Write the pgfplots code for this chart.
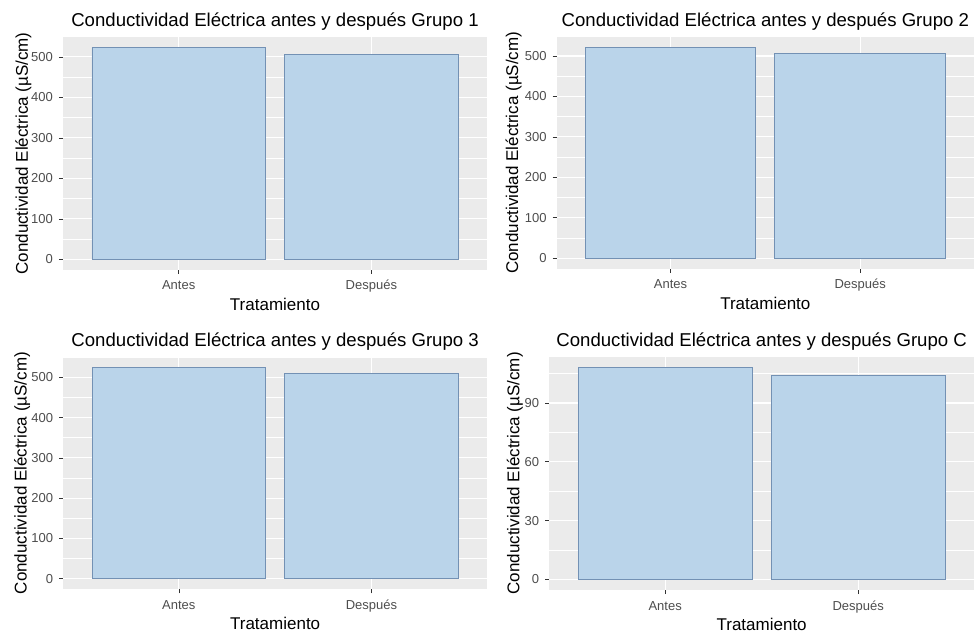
\documentclass[border=0pt]{standalone}
\usepackage{fontspec}
\setmainfont{Liberation Sans}
\usepackage{pgfplots}
\pgfplotsset{compat=1.18}
\definecolor{bggray}{HTML}{EBEBEB}
\definecolor{barfill}{RGB}{186,212,234}
\definecolor{barline}{RGB}{115,145,180}
\definecolor{tickgray}{HTML}{4D4D4D}
\definecolor{tickmark}{HTML}{333333}
\pgfplotsset{
  ggpanel/.style={
    scale only axis,
    axis background/.style={fill=bggray},
    axis line style={draw=none},
    xmin=0.4, xmax=2.6,
    xtick={1,2}, xticklabels={Antes,Después},
    xmajorgrids, ymajorgrids, yminorgrids,
    major grid style={white, line width=1.1pt},
    minor grid style={white, line width=0.55pt},
    tick align=outside, tick pos=left,
    major tick length=4pt, minor tick length=0pt,
    tick style={color=tickmark, line width=0.6pt},
    ticklabel style={font=\fontsize{13}{13}\selectfont, text=tickgray},
    /pgf/number format/assume math mode=true,
    xticklabel style={anchor=base, yshift=-16pt},
    yticklabel style={anchor=east, inner sep=0pt, xshift=-6pt},
    every axis title/.style={at={(rel axis cs:0.5,1)}, anchor=base, yshift=10.5pt, font=\fontsize{18.6}{18.6}\selectfont},
    xlabel={Tratamiento},
    ylabel={Conductividad Eléctrica (µS/cm)},
    every axis x label/.style={at={(rel axis cs:0.5,0)}, anchor=base, yshift=-40.5pt, font=\fontsize{17}{17}\selectfont},
    ybar, bar width=0.9,
  },
  ylab/.style={every axis y label/.style={at={(rel axis cs:0,0.5)}, xshift=-#1, rotate=90, anchor=base, font=\fontsize{17}{17}\selectfont}},
  ggbar/.style={fill=barfill, draw=barline, line width=0.8pt},
}
\begin{document}
\begin{tikzpicture}
\useasboundingbox (0pt,0pt) rectangle (977pt,635pt);
% Panel 1
\begin{axis}[ggpanel, ylab=35pt, at={(63pt,365pt)}, anchor=south west,
  width=424pt, height=233pt,
  ymin=-26.15, ymax=549.15,
  ytick={0,100,200,300,400,500}, minor ytick={50,150,250,350,450,550},
  title={Conductividad Eléctrica antes y después Grupo 1}]
\addplot[ggbar] coordinates {(1,523) (2,507)};
\end{axis}
% Panel 2
\begin{axis}[ggpanel, ylab=38.7pt, at={(556.7pt,366.3pt)}, anchor=south west,
  width=417.3pt, height=231.7pt,
  ymin=-26.05, ymax=547.05,
  ytick={0,100,200,300,400,500}, minor ytick={50,150,250,350,450,550},
  title={Conductividad Eléctrica antes y después Grupo 2}]
\addplot[ggbar] coordinates {(1,521) (2,506)};
\end{axis}
% Panel 3
\begin{axis}[ggpanel, ylab=36.6pt, at={(63.3pt,45.7pt)}, anchor=south west,
  width=423.7pt, height=232.3pt,
  ymin=-26.2, ymax=550.2,
  ytick={0,100,200,300,400,500}, minor ytick={50,150,250,350,450,550},
  title={Conductividad Eléctrica antes y después Grupo 3}]
\addplot[ggbar] coordinates {(1,524) (2,509)};
\end{axis}
% Panel C
\begin{axis}[ggpanel, ylab=30pt, at={(549.3pt,45pt)}, anchor=south west,
  width=424.7pt, height=233.3pt,
  ymin=-5.41, ymax=113.6,
  ytick={0,30,60,90}, minor ytick={15,45,75,105},
  title={Conductividad Eléctrica antes y después Grupo C}]
\addplot[ggbar] coordinates {(1,108.2) (2,104.1)};
\end{axis}
\end{tikzpicture}
\end{document}
